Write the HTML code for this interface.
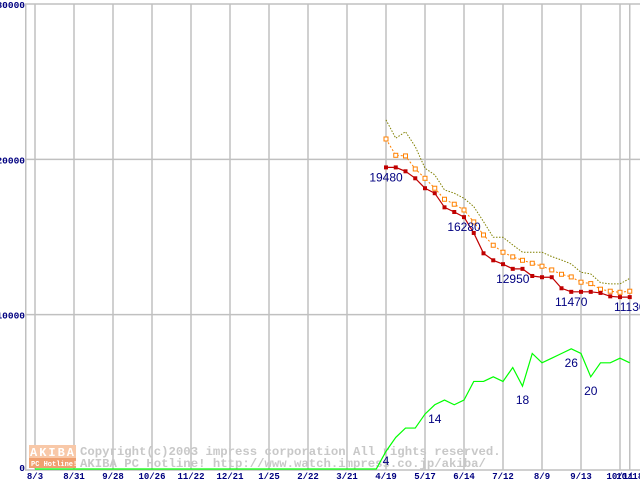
<!DOCTYPE html>
<html><head><meta charset="utf-8"><style>
html,body{margin:0;padding:0;background:#fff;}
svg{display:block;font-family:"Liberation Mono",monospace;}
</style></head><body>
<svg id="chart" width="640" height="480" xmlns="http://www.w3.org/2000/svg"></svg>
<script>
const xLabels=["8/3","8/31","9/28","10/26","11/22","12/21","1/25","2/22","3/21","4/19","5/17","6/14","7/12","8/9","9/13","10/11","10/18"];
const xLabelIdx=[0,4,8,12,16,20,24,28,32,36,40,44,48,52,56,60,61];
const yTicks=[0,10000,20000,30000];
const startIdx=36;
const minPrice=[19480,19480,19230,18780,18140,17820,16910,16610,16280,15260,13950,13500,13250,12950,12950,12490,12410,12410,11700,11470,11470,11470,11400,11180,11130,11130];
const avgPrice=[21310,20260,20220,19380,18780,18140,17430,17110,16740,15970,15130,14470,14020,13720,13500,13310,13120,12880,12600,12430,12090,12000,11640,11510,11440,11510];
const maxPrice=[22540,21360,21780,20820,19430,19000,18030,17820,17490,16960,15990,14980,14980,14490,14020,14020,14020,13740,13520,13260,12730,12620,12060,11980,11980,12340];
const shopCount=[4,7,9,9,12,14,15,14,15,19,19,20,19,22,18,25,23,24,25,26,25,20,23,23,24,23];
const priceLabels=[[0,"19480"],[8,"16280"],[13,"12950"],[19,"11470"],[25,"11130"]];
const countLabels=[[0,"4"],[5,"14"],[14,"18"],[19,"26"],[21,"20"]];
const countScale=300;
const NS="http://www.w3.org/2000/svg";
const svg=document.getElementById("chart");
const L=25,T=4,B=470,R=640;
const X=i=>35+i*9.75;
const Y=v=>B-(v/30000)*(B-T);
function mk(tag,attrs,parent){const e=document.createElementNS(NS,tag);for(const k in attrs)e.setAttribute(k,attrs[k]);(parent||svg).appendChild(e);return e;}
const grid=mk("g",{});


yTicks.forEach(v=>{const l=mk("line",{x1:L,x2:R,y1:Y(v),y2:Y(v),stroke:"#c0c0c0","stroke-width":1.5},grid);


const t=mk("text",{x:L,y:Y(v)+(v===0?1:4),"text-anchor":"end","font-size":9.5,"font-weight":"bold",fill:"#000080"});t.textContent=v;

});
mk("line",{x1:L+0.75,x2:L+0.75,y1:T,y2:B,stroke:"#c0c0c0","stroke-width":1.5},grid);
xLabelIdx.forEach((ix,k)=>{const l=mk("line",{x1:X(ix),x2:X(ix),y1:T,y2:B,stroke:"#c0c0c0","stroke-width":1.5},grid);


const t=mk("text",{x:X(ix),y:479,"text-anchor":"middle","font-size":9,"font-weight":"bold",fill:"#000080"});t.textContent=xLabels[k];

});
// watermark
const wm=mk("g",{});


mk("rect",{x:29,y:445,width:47,height:13,fill:"#f8c8a8"},wm);
mk("rect",{x:29,y:458,width:47,height:10,fill:"#f0a070"},wm);
let tw=mk("text",{x:30,y:456,"font-size":12,"font-weight":"bold",fill:"#fff","letter-spacing":"2"},wm);tw.textContent="AKIBA";
tw=mk("text",{x:31,y:466,"font-size":7,"font-weight":"bold",fill:"#fff"},wm);tw.textContent="PC Hotline!";
tw=mk("text",{x:80,y:455,"font-size":12.3,"font-weight":"bold",fill:"#c8c8c8"},wm);tw.textContent="Copyright(c)2003 impress corporation All rights reserved.";
tw=mk("text",{x:80,y:467,"font-size":12.3,"font-weight":"bold",fill:"#c8c8c8"},wm);tw.textContent="AKIBA PC Hotline!  http://www.watch.impress.co.jp/akiba/";
function pts(arr,scale){return arr.map((v,i)=>X(startIdx+i)+","+Y(v*scale)).join(" ");}
// green shop count
const gz=X(0)+","+(B-1)+" "+X(startIdx-1)+","+(B-1)+" ";
const g=mk("polyline",{points:gz+pts(shopCount,countScale),fill:"none",stroke:"#00ff00","stroke-width":1.2});


const mx=mk("polyline",{points:pts(maxPrice,1),fill:"none",stroke:"#808000","stroke-width":1,"stroke-dasharray":"1.5,1.5"});


const av=mk("polyline",{points:pts(avgPrice,1),fill:"none",stroke:"#ff8000","stroke-width":1,"stroke-dasharray":"2,2"});


avgPrice.forEach((v,i)=>{const r=mk("rect",{x:X(startIdx+i)-2,y:Y(v)-2,width:4,height:4,fill:"#fff",stroke:"#ff8000","stroke-width":1});

});
const mn=mk("polyline",{points:pts(minPrice,1),fill:"none",stroke:"#c00000","stroke-width":1.2});


minPrice.forEach((v,i)=>{const r=mk("rect",{x:X(startIdx+i)-2,y:Y(v)-2,width:4,height:4,fill:"#c00000"});

});
priceLabels.forEach(([i,s])=>{const t=mk("text",{x:X(startIdx+i),y:Y(minPrice[i])+14,"text-anchor":"middle","font-family":"Liberation Sans, sans-serif","font-size":12,fill:"#000080"});t.textContent=s;

});
countLabels.forEach(([i,s])=>{const t=mk("text",{x:X(startIdx+i),y:Math.min(Y(shopCount[i]*countScale)+18,465),"text-anchor":"middle","font-family":"Liberation Sans, sans-serif","font-size":12,fill:"#000080"});t.textContent=s;

});
</script>
</body></html>
